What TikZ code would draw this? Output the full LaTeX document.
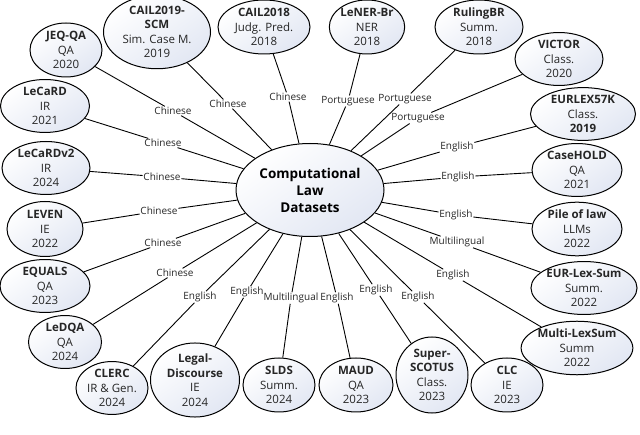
\documentclass[tikz,border=0pt]{standalone}
\usepackage{fontspec}
\setmainfont{Open Sans}
\usepackage{tikz}
\usetikzlibrary{shapes.geometric}
\definecolor{shadecol}{RGB}{226,231,243}

\begin{document}
\begin{tikzpicture}[x=1pt,y=-1pt,
  ds/.style={ellipse,draw,line width=1pt,inner sep=0pt,align=center,
    top color=white,bottom color=shadecol,shading angle=35,
    font=\fontsize{11.5}{14.5}\selectfont,text=black!85},
  hub/.style={ds,font=\bfseries\fontsize{13.5}{17}\selectfont,text=black},
  lang/.style={inner sep=0.6pt,font=\fontsize{10}{11}\selectfont,text=black!85},
  edge/.style={line width=0.9pt,black}]
\useasboundingbox (0,0) rectangle (640,435);

\begin{scope}[every node/.style={ds}]
\node[hub,minimum width=148,minimum height=93] (0) at (310,190) {Computational\\Law\\Datasets};

\node[minimum width=72,minimum height=54] (1) at (66,50) {\textbf{JEQ-QA}\\QA\\2020};
\node[minimum width=107,minimum height=62] (2) at (157,32) {\textbf{CAIL2019-}\\\textbf{SCM}\\Sim. Case M.\\2019};
\node[minimum width=92,minimum height=54] (3) at (264,27) {\textbf{CAIL2018}\\Judg. Pred.\\2018};
\node[minimum width=68,minimum height=54] (4) at (367,27) {\textbf{LeNER-Br}\\NER\\2018};
\node[minimum width=88,minimum height=54] (5) at (479,27) {\textbf{RulingBR}\\Summ.\\2018};
\node[minimum width=88,minimum height=48] (6) at (559,59) {\textbf{VICTOR}\\Class.\\2020};
\node[minimum width=105,minimum height=48] (7) at (583,114) {\textbf{EURLEX57K}\\Class.\\\textbf{2019}};
\node[minimum width=90,minimum height=50] (8) at (577,170) {\textbf{CaseHOLD}\\QA\\2021};
\node[minimum width=90,minimum height=50] (9) at (577,229) {\textbf{Pile of law}\\LLMs\\2022};
\node[minimum width=105,minimum height=51] (10) at (584,288) {\textbf{EUR-Lex-Sum}\\Summ.\\2022};
\node[minimum width=107,minimum height=53] (11) at (577,348) {\textbf{Multi-LexSum}\\Summ\\2022};
\node[minimum width=72,minimum height=54] (12) at (507,385) {\textbf{CLC}\\IE\\2023};
\node[minimum width=72,minimum height=76] (13) at (432,375) {\textbf{Super-}\\\textbf{SCOTUS}\\Class.\\2023};
\node[minimum width=74,minimum height=54] (14) at (356,385) {\textbf{MAUD}\\QA\\2023};
\node[minimum width=72,minimum height=54] (15) at (279,385) {\textbf{SLDS}\\Summ.\\2024};
\node[minimum width=89,minimum height=66] (16) at (195,380) {\textbf{Legal-}\\\textbf{Discourse}\\IE\\2024};
\node[minimum width=72,minimum height=50] (17) at (112,388) {\textbf{CLERC}\\IR \& Gen.\\2024};
\node[minimum width=73,minimum height=50] (18) at (65,342) {\textbf{LeDQA}\\QA\\2024};
\node[minimum width=90,minimum height=50] (19) at (45,286) {\textbf{EQUALS}\\QA\\2023};
\node[minimum width=76,minimum height=55] (20) at (45,229) {\textbf{LEVEN}\\IE\\2022};
\node[minimum width=88,minimum height=53] (21) at (46,168) {\textbf{LeCaRDv2}\\IR\\2024};
\node[minimum width=89,minimum height=52] (22) at (45,106) {\textbf{LeCaRD}\\IR\\2021};
\end{scope}

\begin{scope}[every node/.style={lang}]
\node (e1) at (173,111) {Chinese};
\node (e2) at (228,104) {Chinese};
\node (e3) at (288,97) {Chinese};
\node (e4) at (348,101) {Portuguese};
\node (e5) at (405,99) {Portuguese};
\node (e6) at (418,118) {Portuguese};
\node (e7) at (457,147) {English};
\node (e8) at (458,177) {English};
\node (e9) at (456,215) {English};
\node (e10) at (457,242) {Multilingual};
\node (e11) at (453,275) {English};
\node (e12) at (418,297) {English};
\node (e13) at (376,290) {English};
\node (e14) at (337,298) {English};
\node (e15) at (291,298) {Multilingual};
\node (e16) at (247,292) {English};
\node (e17) at (200,297) {English};
\node (e18) at (175,273) {Chinese};
\node (e19) at (163,243) {Chinese};
\node (e20) at (159,211) {Chinese};
\node (e21) at (162,177) {Chinese};
\node (e22) at (163,143) {Chinese};
\end{scope}

\foreach \i in {1,...,22}
  \draw[edge] (\i) -- (e\i) -- (0);

\end{tikzpicture}
\end{document}
